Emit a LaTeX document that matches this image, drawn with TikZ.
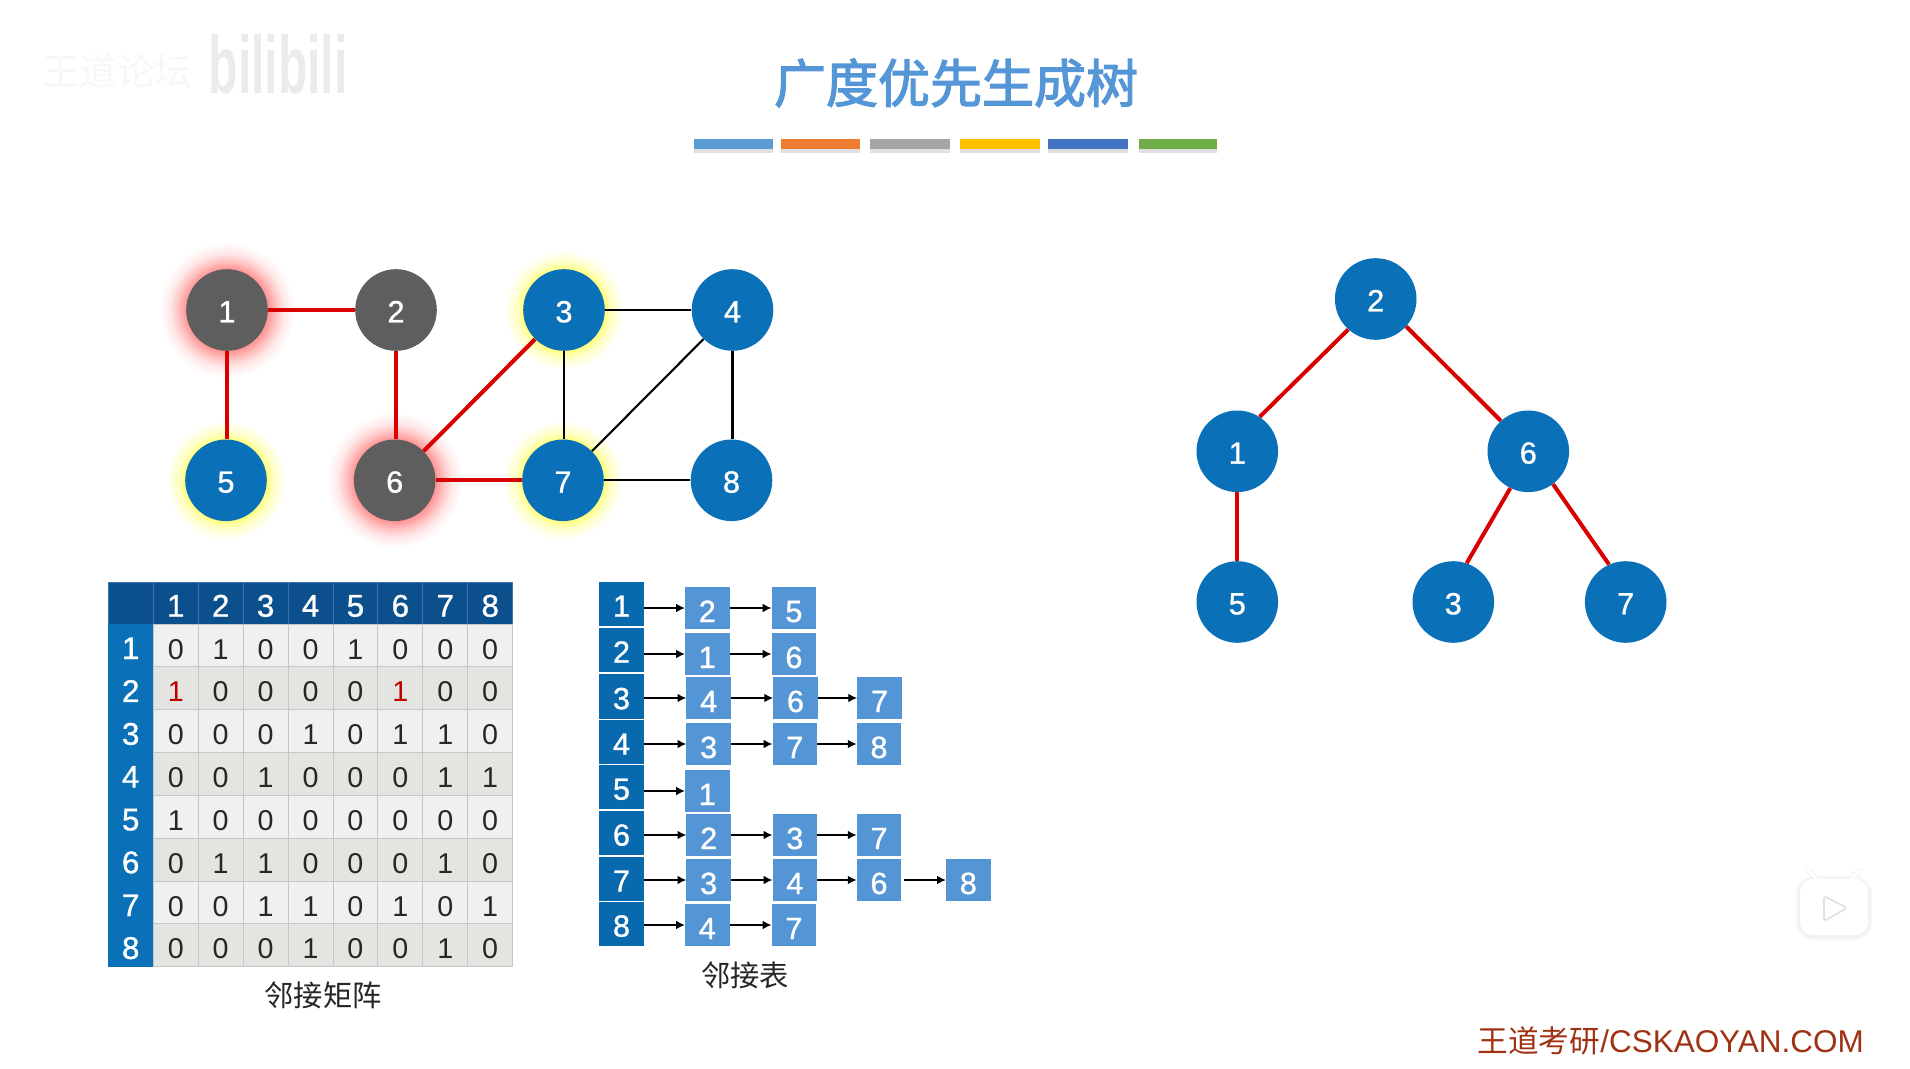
\documentclass[tikz,border=0pt]{standalone}
\usepackage{fontspec}
\setmainfont{Liberation Sans}
\newfontfamily\wfont[FakeBold=1]{Liberation Sans}
\newfontfamily\cjk{Noto Sans CJK SC}
\newfontfamily\cjkm[FakeBold=2.5]{Noto Sans CJK SC}
\usetikzlibrary{arrows.meta,shapes.geometric}
\definecolor{nodeblue}{HTML}{0A70B8}
\definecolor{nodegray}{HTML}{5E5E5E}
\definecolor{rededge}{HTML}{D90000}
\definecolor{titleblue}{HTML}{5596D6}
\definecolor{hdrdark}{HTML}{0B4F8C}
\definecolor{hdrline}{HTML}{3C75A8}
\definecolor{rowblue}{HTML}{0A70B8}
\definecolor{cellA}{HTML}{F0F0F0}
\definecolor{cellB}{HTML}{E4E4E0}
\definecolor{cellline}{HTML}{C6C6CA}
\definecolor{listbox}{HTML}{5495D5}
\definecolor{listhead}{HTML}{0869AF}
\definecolor{footred}{HTML}{A03214}
\definecolor{oneRed}{HTML}{C00000}
\pgfdeclareradialshading{redglowsh}{\pgfpoint{0bp}{0bp}}{color(0bp)=(red!42!white); color(15bp)=(red!42!white); color(18bp)=(red!24!white); color(21bp)=(red!9!white); color(25bp)=(white); color(50bp)=(white)}
\pgfdeclareradialshading{yellowglowsh}{\pgfpoint{0bp}{0bp}}{color(0bp)=(yellow!50!white); color(17bp)=(yellow!50!white); color(20bp)=(yellow!22!white); color(25bp)=(white); color(50bp)=(white)}
\tikzset{
  gnode/.style={circle,minimum size=61.2pt,inner sep=0pt,text=white,font=\wfont\fontsize{23}{23}\selectfont,text height=18.5pt,text depth=0pt},
  bluenode/.style={gnode,fill=nodeblue},
  graynode/.style={gnode,fill=nodegray},
  redglow/.style={circle,minimum size=102pt,inner sep=0pt,shading=redglowsh},
  yellowglow/.style={circle,minimum size=90pt,inner sep=0pt,shading=yellowglowsh},
  redthin/.style={rededge,line width=2.4pt},
  redthick/.style={rededge,line width=3pt},
  blackedge/.style={black,line width=1.6pt},
  cellbase/.style={rectangle,minimum width=33.7pt,minimum height=32.1pt,inner sep=0pt,draw=cellline,line width=.6pt},
  numcell/.style={cellbase,text=black!85,font=\fontsize{21.5}{21}\selectfont,text height=20.5pt,text depth=0pt},
  headcell/.style={rectangle,minimum width=33.7pt,minimum height=31.5pt,inner sep=0pt,fill=hdrdark,draw=hdrline,line width=.6pt,text=white,font=\wfont\fontsize{23.5}{22}\selectfont,text height=20.5pt,text depth=0pt},
  rowcell/.style={rectangle,minimum width=33.7pt,minimum height=32.1pt,inner sep=0pt,fill=rowblue,draw=rowblue,line width=.4pt,text=white,font=\wfont\fontsize{23.5}{22}\selectfont,text height=20.5pt,text depth=0pt},
  listnode/.style={rectangle,minimum width=33.4pt,minimum height=31.2pt,inner sep=0pt,fill=listbox,text=white,font=\wfont\fontsize{23}{22}\selectfont,text height=21pt,text depth=0pt},
  listhd/.style={rectangle,minimum width=33.6pt,minimum height=33.4pt,inner sep=0pt,fill=listhead,text=white,font=\wfont\fontsize{23}{22}\selectfont,text height=19pt,text depth=0pt},
  listarrow/.style={-{Latex[length=6.5pt,width=6.5pt]},black,line width=.9pt},
  caption/.style={inner sep=0pt,text=black!85,font=\cjk\fontsize{22}{22}\selectfont},
}
\begin{document}
\begin{tikzpicture}[x=0.75pt,y=-0.75pt]
\useasboundingbox (0,0) rectangle (1910,1069);

% watermark
\node[inner sep=0pt,text=black!3,font=\cjk\fontsize{28}{28}\selectfont] (wm1) at (117,71) {王道论坛};
\node[inner sep=0pt,text=black!8,font=\bfseries\fontsize{36}{36}\selectfont,yscale=1.7,transform shape] (wm2) at (278,64) {bilibili};

% title and bars
\node[inner sep=0pt,text=titleblue,font=\cjkm\fontsize{39}{39}\selectfont] (title) at (956,83) {广度优先生成树};
\foreach \a/\b/\c in {694/773/5B9BD5,781/860/ED7D31,870/950/A5A5A5,960/1040/FFC000,1048/1128/4472C4,1139/1217/70AD47}{
  \fill[black!12] (\a,142) rectangle (\b,153);
  \definecolor{barc}{HTML}{\c}
  \fill[barc] (\a,139) rectangle (\b,149);
}

% glows
\node[redglow] (g1) at (227,310) {};
\node[redglow] (g6) at (394.7,480.3) {};
\node[yellowglow] (g3) at (564,310) {};
\node[yellowglow] (g5) at (226,480.3) {};
\node[yellowglow] (g7) at (563,480.3) {};

% graph
\node[graynode] (n1) at (227,310) {1};
\node[graynode] (n2) at (396,310) {2};
\node[bluenode] (n3) at (564,310) {3};
\node[bluenode] (n4) at (732.5,310) {4};
\node[bluenode] (n5) at (226,480.3) {5};
\node[graynode] (n6) at (394.7,480.3) {6};
\node[bluenode] (n7) at (563,480.3) {7};
\node[bluenode] (n8) at (731.5,480.3) {8};
\draw[redthin] (n1) -- (n2);
\draw[redthin] (n1.south) -- (n1.south |- n5.north);
\draw[redthin] (n2.south) -- (n2.south |- n6.north);
\draw[redthick] (n3) -- (n6);
\draw[redthick] (n6) -- (n7);
\draw[blackedge] (n3) -- (n4);
\draw[blackedge] (n3.south) -- (n3.south |- n7.north);
\draw[blackedge] (n4) -- (n7);
\draw[blackedge] (n4.south) -- (n4.south |- n8.north);
\draw[blackedge] (n7) -- (n8);

% tree
\node[bluenode] (t2) at (1375.7,299) {2};
\node[bluenode] (t1) at (1237.3,451.3) {1};
\node[bluenode] (t6) at (1528.3,451.3) {6};
\node[bluenode] (t5) at (1237.3,602) {5};
\node[bluenode] (t3) at (1453.3,602) {3};
\node[bluenode] (t7) at (1625.7,602) {7};
\draw[redthick] (t2.228) -- (t1.57);
\draw[redthick] (t2.318) -- (t6.132);
\draw[redthick] (t1.south) -- (t5.north);
\draw[redthick] (t6.244) -- (t3.71);
\draw[redthick] (t6.307) -- (t7.114);

% adjacency matrix
\node[headcell] (mh0) at (130.7,603) {};
\foreach \c in {1,...,8}{
  \pgfmathsetmacro\mx{153.3+44.92*(\c-0.5)}
  \node[headcell] (mh\c) at (\mx,603) {\c};
}
\foreach \rw [count=\ri from 1] in {
 {0,1,0,0,1,0,0,0},
 {\textcolor{oneRed}{1},0,0,0,0,\textcolor{oneRed}{1},0,0},
 {0,0,0,1,0,1,1,0},
 {0,0,1,0,0,0,1,1},
 {1,0,0,0,0,0,0,0},
 {0,1,1,0,0,0,1,0},
 {0,0,1,1,0,1,0,1},
 {0,0,0,1,0,0,1,0}}{
  \pgfmathsetmacro\my{624+42.83*(\ri-0.5)}
  \node[rowcell] (mr\ri) at (130.7,\my) {\ri};
  \pgfmathtruncatemacro\odd{mod(\ri,2)}
  \foreach \v [count=\ci from 1] in \rw {
    \pgfmathsetmacro\mx{153.3+44.92*(\ci-0.5)}
    \ifnum\odd=1
      \node[numcell,fill=cellA] (m\ri-\ci) at (\mx,\my) {\v};
    \else
      \node[numcell,fill=cellB] (m\ri-\ci) at (\mx,\my) {\v};
    \fi
  }
}
\node[caption] (capm) at (323,995) {邻接矩阵};

% adjacency list
\foreach \t/\yy in {1/604,2/650,3/696.5,4/742,5/787,6/833,7/879,8/924}{
  \node[listhd] (h\t) at (621.5,\yy) {\t};
}
\node[listnode] (b11) at (707.3,608) {2};
\node[listnode] (b12) at (793.9,608) {5};
\node[listnode] (b21) at (707.3,654) {1};
\node[listnode] (b22) at (793.9,654) {6};
\node[listnode] (b31) at (708.7,698) {4};
\node[listnode] (b32) at (795.5,698) {6};
\node[listnode] (b33) at (879.5,698) {7};
\node[listnode] (b41) at (708.7,744) {3};
\node[listnode] (b42) at (794.8,744) {7};
\node[listnode] (b43) at (879,744) {8};
\node[listnode] (b51) at (707.3,791) {1};
\node[listnode] (b61) at (708.7,835) {2};
\node[listnode] (b62) at (794.8,835) {3};
\node[listnode] (b63) at (879,835) {7};
\node[listnode] (b71) at (708.7,880) {3};
\node[listnode] (b72) at (794.8,880) {4};
\node[listnode] (b73) at (879,880) {6};
\node[listnode] (b74) at (968.3,880) {8};
\node[listnode] (b81) at (707.3,925) {4};
\node[listnode] (b82) at (793.9,925) {7};
\foreach \t in {1,...,8}{
  \draw[listarrow] (h\t.east |- b\t1.west) -- (b\t1.west);
}
\foreach \a/\b in {b11/b12,b21/b22,b31/b32,b32/b33,b41/b42,b42/b43,b61/b62,b62/b63,b71/b72,b72/b73,b81/b82}{
  \draw[listarrow] (\a.east) -- (\b.west);
}
\draw[listarrow,shorten <=2pt] (b73.east) -- (b74.west);
\node[caption] (capl) at (745,975) {邻接表};

% footer
\node[anchor=east,inner sep=0pt,text=footred,font=\fontsize{23.6}{24}\selectfont] (foot) at (1864,1041) {{\cjk\fontsize{23}{24}\selectfont 王道考研}/CSKAOYAN.COM};

% player icon
\foreach \gr/\gw in {3/6,4/4,5/2}{
  \draw[black!\gr,line width=\gw pt,rounded corners=10pt,fill=black!\gr] (1800,880) rectangle (1868,936);
}
\draw[line width=4pt,line cap=round,black!8] (1818,881) -- (1809,871);
\draw[line width=4pt,line cap=round,black!8] (1850,881) -- (1859,871);
\draw[line width=3pt,line cap=round,white] (1818,881) -- (1809,871);
\draw[line width=3pt,line cap=round,white] (1850,881) -- (1859,871);
\fill[white,rounded corners=10pt] (1800,879) rectangle (1868,935);
\draw[black!12,line width=1.2pt,line join=round,rounded corners=2pt,fill=white] (1824,896) -- (1847,908) -- (1824,921) -- cycle;
\end{tikzpicture}
\end{document}
